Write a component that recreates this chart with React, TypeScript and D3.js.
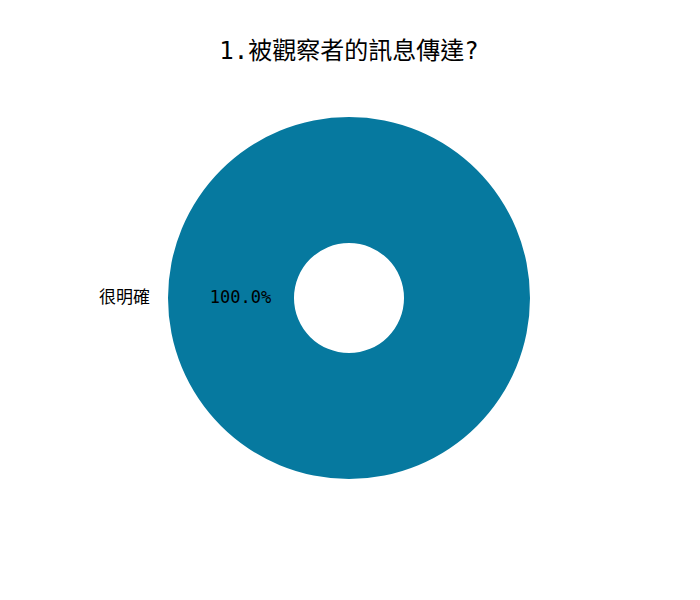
import React from 'react';
import * as d3 from 'd3';

const categories = ['很明確'];
const values = [1];
const colors = ['#06799f'];
const title = '1.被觀察者的訊息傳達?';

const App: React.FC = () => {
    const width = 700;
    const height = 600;
    const cx = 349;
    const cy = 298;
    const radius = 181;
    const inner = 55;

    const total = d3.sum(values);
    const pie = d3.pie<number>().value(d => d).sort(null).startAngle(-Math.PI).endAngle(Math.PI);
    const arcs = pie(values);
    const arc = d3.arc<d3.PieArcDatum<number>>().innerRadius(inner).outerRadius(radius);

    const font = '"DejaVu Sans Mono", "Noto Sans CJK TC", monospace';

    return (
        <div style={{ position: 'absolute', left: 0, top: 0 }}>
            <svg width={width} height={height} style={{ display: 'block' }}>
                <rect width={width} height={height} fill="white" />
                <text x={cx} y={52} textAnchor="middle" dominantBaseline="middle"
                    style={{ fontFamily: font, fontSize: 24 }}>{title}</text>
                <g transform={`translate(${cx}, ${cy})`}>
                    {arcs.map((d, i) => {
                        // matplotlib places a single slice's label on the left side
                        const mid = total === d.value ? Math.PI : (d.startAngle + d.endAngle) / 2;
                        const lx = -Math.cos(mid) * radius * 1.1 * -1;
                        const px = -Math.cos(mid) * radius * 0.6 * -1;
                        return (
                            <g key={i}>
                                <path d={arc(d) || ''} fill={colors[i % colors.length]} />
                                <text x={lx} y={0} textAnchor="end" dominantBaseline="middle"
                                    style={{ fontFamily: font, fontSize: 17 }}>{categories[i]}</text>
                                <text x={px} y={0} textAnchor="middle" dominantBaseline="middle"
                                    style={{ fontFamily: font, fontSize: 17 }}>
                                    {((d.value / total) * 100).toFixed(1)}%
                                </text>
                            </g>
                        );
                    })}
                </g>
            </svg>
        </div>
    );
};

export default App;
